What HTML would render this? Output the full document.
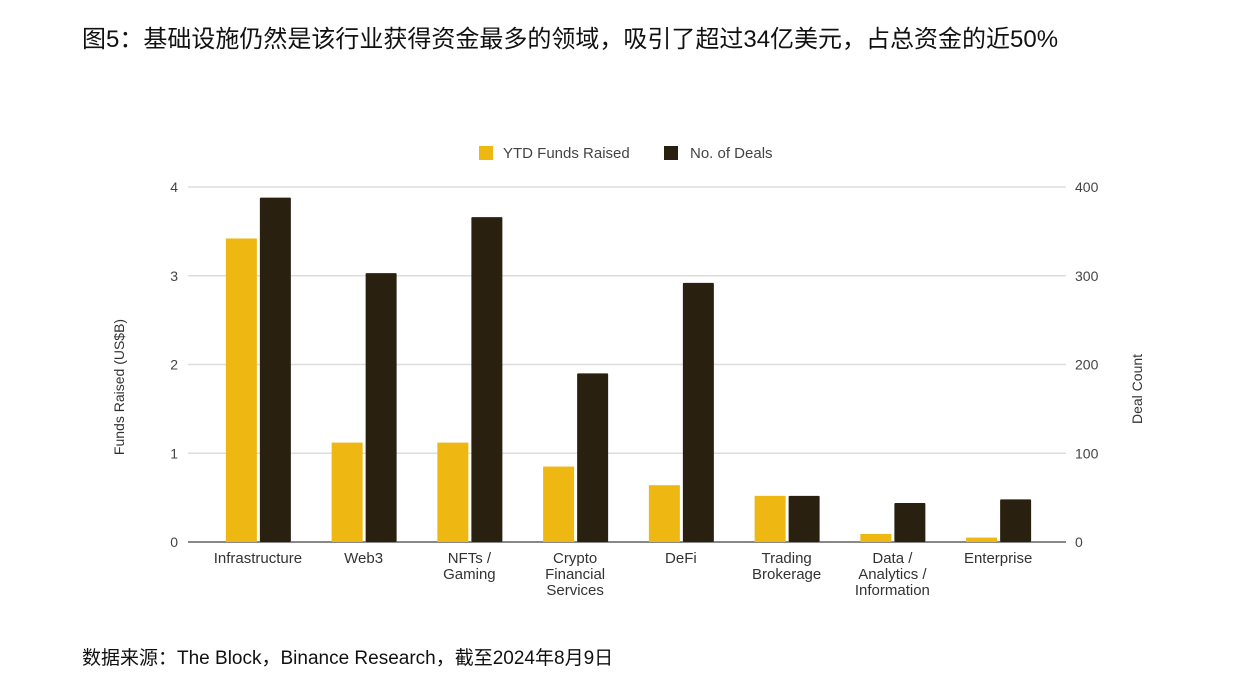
<!DOCTYPE html>
<html><head><meta charset="utf-8"><style>
body{margin:0;background:#fff;width:1248px;height:694px;overflow:hidden;font-family:"Liberation Sans","Noto Sans CJK SC",sans-serif;}
.t{position:absolute;left:82px;top:19px;font-size:24px;color:#111;white-space:nowrap;}
.f{position:absolute;left:82px;top:643px;font-size:19px;color:#111;white-space:nowrap;}
svg{position:absolute;left:0;top:0;}
</style></head><body>
<div class="t">图5：基础设施仍然是该行业获得资金最多的领域，吸引了超过34亿美元，占总资金的近50%</div>
<div class="f">数据来源：The Block，Binance Research，截至2024年8月9日</div>
<svg id="c" width="1248" height="694" font-family="Liberation Sans, sans-serif"></svg>
<script>
const categories=[["Infrastructure"],["Web3"],["NFTs /","Gaming"],["Crypto","Financial","Services"],["DeFi"],["Trading","Brokerage"],["Data /","Analytics /","Information"],["Enterprise"]];
const funds=[3.42,1.12,1.12,0.85,0.64,0.52,0.09,0.05];
const deals=[388,303,366,190,292,52,44,48];
const leftTicks=[0,1,2,3,4];
const rightTicks=[0,100,200,300,400];
const svg=document.getElementById('c');const NS='http://www.w3.org/2000/svg';
function mk(t,a,p){const e=document.createElementNS(NS,t);for(const k in a)e.setAttribute(k,a[k]);(p||svg).appendChild(e);return e;}
const x0=188,x1=1066,yB=542,yT=187,gStart=205,gW=105.75;
const yL=v=>yB-(v/4)*(yB-yT);
const yR=v=>yB-(v/400)*(yB-yT);
const cx=i=>gStart+gW*(i+0.5);
leftTicks.forEach((v,i)=>{
  const g=mk('line',{x1:x0,x2:x1,y1:yL(v),y2:yL(v),stroke:v===0?'#888':'#ddd','stroke-width':v===0?2:1.5});
  
  const t=mk('text',{x:178,y:yL(v)+5,'text-anchor':'end','font-size':14,fill:'#444'});t.textContent=v;
  
});
rightTicks.forEach(v=>{
  const t=mk('text',{x:1075,y:yR(v)+5,'font-size':14,fill:'#444'});t.textContent=v;
  
});
categories.forEach((c,i)=>{
  const a=mk('rect',{x:cx(i)-32,y:yL(funds[i]),width:31,height:yB-yL(funds[i]),fill:'#EEB711'});
  
  const b=mk('rect',{x:cx(i)+2,y:yR(deals[i]),width:31,height:yB-yR(deals[i]),fill:'#2A2010',rx:1});
  
  c.forEach((l,j)=>{const t=mk('text',{x:cx(i),y:563+j*16,'text-anchor':'middle','font-size':15,fill:'#333'});t.textContent=l;
  });
});
let t=mk('text',{transform:'translate(124,387) rotate(-90)','text-anchor':'middle','font-size':14,fill:'#333'});t.textContent='Funds Raised (US$B)';

t=mk('text',{transform:'translate(1142,389) rotate(-90)','text-anchor':'middle','font-size':14,fill:'#333'});t.textContent='Deal Count';

let r=mk('rect',{x:479,y:146,width:14,height:14,fill:'#EEB711'});
t=mk('text',{x:503,y:158,'font-size':15,fill:'#444'});t.textContent='YTD Funds Raised';
r=mk('rect',{x:664,y:146,width:14,height:14,fill:'#2A2010'});
t=mk('text',{x:690,y:158,'font-size':15,fill:'#444'});t.textContent='No. of Deals';
</script>
</body></html>
